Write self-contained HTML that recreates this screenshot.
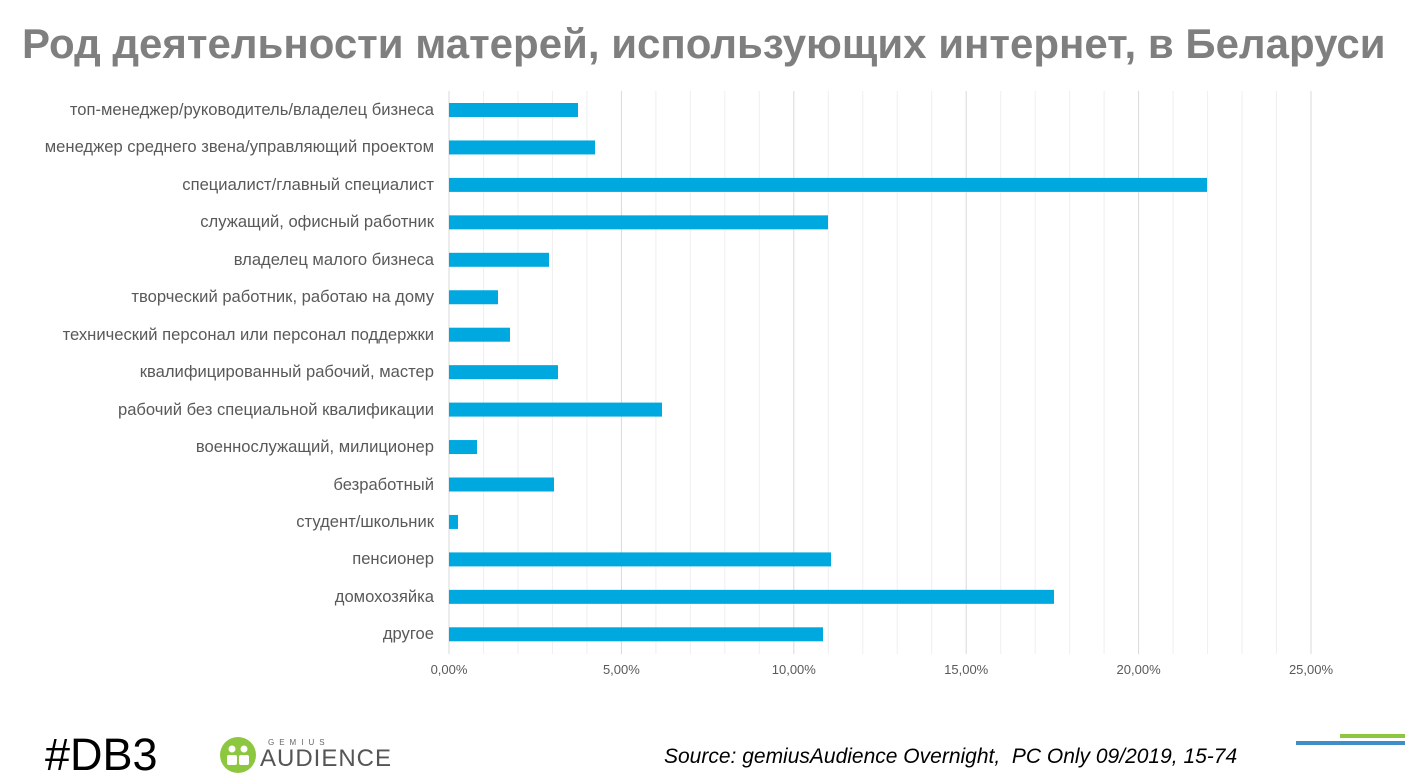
<!DOCTYPE html>
<html><head><meta charset="utf-8"><style>
body{margin:0;width:1405px;height:782px;background:#fff;overflow:hidden;font-family:"Liberation Sans",sans-serif;position:relative}
.t{position:absolute;left:22px;top:20px;font-size:42px;font-weight:bold;color:#7f7f7f;white-space:nowrap}
.l{position:absolute;right:971px;font-size:16.6px;color:#595959;white-space:nowrap;line-height:18px}
.x{position:absolute;top:662px;font-size:13px;color:#595959;transform:translateX(-50%)}
</style></head><body>
<div class="t">Род деятельности матерей, использующих интернет, в Беларуси</div>
<svg width="1405" height="782" style="position:absolute;left:0;top:0">
<g id="g"></g>
<g id="b" fill="#00a8e0"></g>
<rect x="1340" y="734" width="65" height="4" fill="#8dc63f"/>
<rect x="1296" y="741" width="109" height="4" fill="#3f8ec8"/>
<circle cx="238" cy="755" r="18" fill="#8dc63f"/>
<circle cx="232" cy="749" r="3.5" fill="#fff"/><circle cx="244" cy="749" r="3.5" fill="#fff"/>
<rect x="227" y="755" width="10" height="10" rx="2" fill="#fff"/><rect x="239" y="755" width="10" height="10" rx="2" fill="#fff"/>
<text x="268" y="745" font-size="8" fill="#666" letter-spacing="5" font-family="Liberation Sans">GEMIUS</text>
<text x="260" y="766" font-size="24" fill="#555" letter-spacing="1" font-family="Liberation Sans">AUDIENCE</text>
</svg>
<div style="position:absolute;left:45px;top:729px;font-size:45px;color:#000">#DB3</div>
<div style="position:absolute;left:664px;top:745px;font-size:21px;font-style:italic;color:#000;white-space:nowrap">Source: gemiusAudience Overnight,&nbsp; PC Only 09/2019, 15-74</div>
<div id="L"></div>
<script>
var g=document.getElementById('g'),b=document.getElementById('b'),ns="http://www.w3.org/2000/svg";
for(var i=0;i<=25;i++){var x=449+i*34.48;var r=document.createElementNS(ns,'rect');r.setAttribute('x',x-0.5);r.setAttribute('y',91);r.setAttribute('width',1);r.setAttribute('height',563);r.setAttribute('fill',i%5==0?'#d9d9d9':'#efefef');g.appendChild(r);}
var labs=["топ-менеджер/руководитель/владелец бизнеса","менеджер среднего звена/управляющий проектом","специалист/главный специалист","служащий, офисный работник","владелец малого бизнеса","творческий работник, работаю на дому","технический персонал или персонал поддержки","квалифицированный рабочий, мастер","рабочий без специальной квалификации","военнослужащий, милиционер","безработный","студент/школьник","пенсионер","домохозяйка","другое"];
var ends=[578,595,1207,828,549,498,510,558,662,477,554,458,831,1054,823];
var h='';
for(var k=0;k<15;k++){var c=110+k*37.45;var r=document.createElementNS(ns,'rect');r.setAttribute('x',449);r.setAttribute('y',c-7);r.setAttribute('width',ends[k]-449);r.setAttribute('height',14);b.appendChild(r);
h+='<div class="l" style="top:'+(c-9)+'px">'+labs[k]+'</div>';}
var xs=["0,00%","5,00%","10,00%","15,00%","20,00%","25,00%"];
for(var j=0;j<6;j++)h+='<div class="x" style="left:'+(449+j*172.4)+'px">'+xs[j]+'</div>';
document.getElementById('L').innerHTML=h;
</script>
</body></html>
